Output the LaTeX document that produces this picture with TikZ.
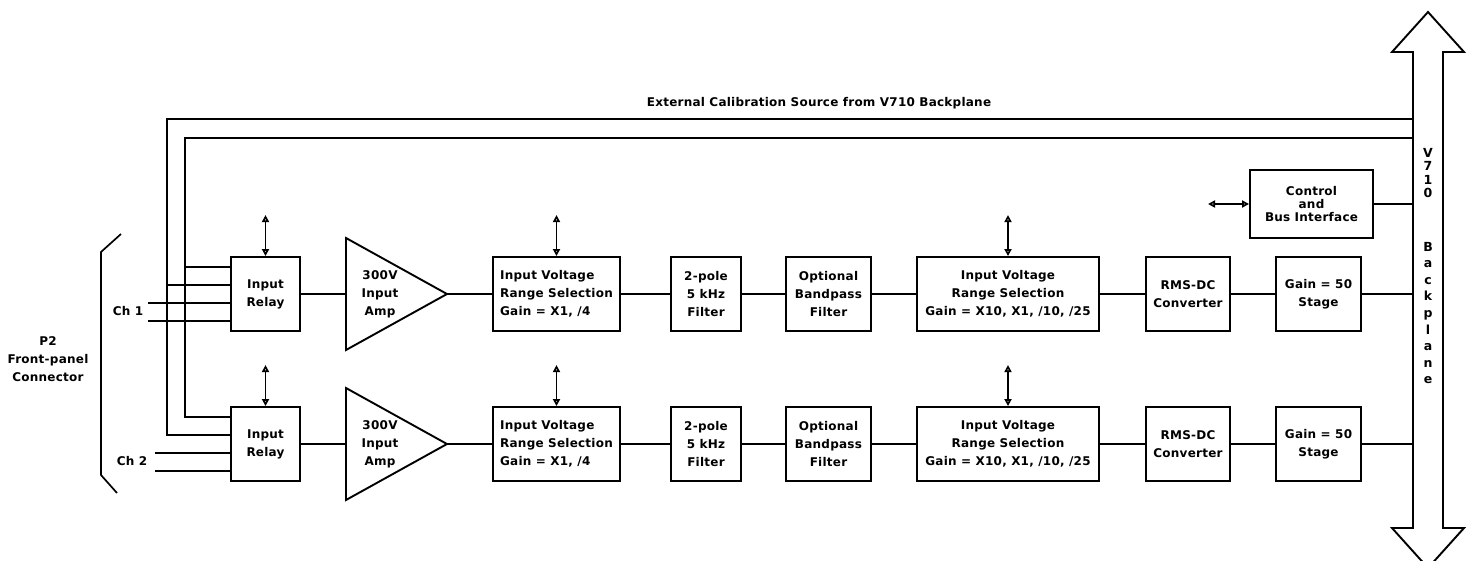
\documentclass[tikz,border=0pt]{standalone}
\usepackage{fontspec}
\newfontfamily\lbl{DejaVu Sans}[LetterSpace=2, UprightFont=* Bold]
\usetikzlibrary{arrows.meta,calc}
\tikzset{
  lbltext/.style={font=\lbl\fontsize{12}{18}\selectfont},
  blk/.style={draw, line width=1.9pt, minimum height=74pt, inner sep=0pt,
              align=center, lbltext},
  wire/.style={line width=1.7pt},
  bidir/.style={wire, {Triangle[open,length=7pt,width=7pt]}-{Triangle[open,length=7pt,width=7pt]}},
  outline/.style={line width=1.9pt, line join=miter},
}
\begin{document}
\begin{tikzpicture}[x=1pt,y=-1pt]
\useasboundingbox (0,0) rectangle (1478,560);
\clip (0,0) rectangle (1478,560);

% backplane bus: double-headed arrow on the right
\draw[outline] (1428,12) -- (1464,52) -- (1443,52) -- (1443,528) -- (1464,528)
  -- (1428,568) -- (1392,528) -- (1413,528) -- (1413,52) -- (1392,52) -- cycle;
\coordinate (bus) at (1413,0);
\node[font=\lbl\fontsize{12.5}{13.3}\selectfont, align=center, inner sep=0pt] (bpV) at (1428,173) {V\\7\\1\\0};
\node[font=\lbl\fontsize{12.5}{16.6}\selectfont, align=center, inner sep=0pt] (bpB) at (1428,313) {B\\a\\c\\k\\p\\l\\a\\n\\e};

% calibration source label
\node[lbltext] (cal) at (819,103) {External Calibration Source from V710 Backplane};

% two identical measurement channels
\foreach \r/\y in {1/294,2/444} {
  \node[blk, minimum width=69pt] (relay\r) at (265.5,\y) {Input\\Relay};
  \coordinate (ampin\r) at (346,\y);
  \coordinate (ampout\r) at (447,\y);
  \draw[outline] (346,\y-56) -- (ampout\r) -- (346,\y+56) -- cycle;
  \node[lbltext, align=center] (amp\r) at (380,\y) {300V\\Input\\Amp};
  \node[blk, minimum width=127pt, align=left] (ivA\r) at (556.5,\y) {Input Voltage\\Range Selection\\Gain = X1, /4};
  \node[blk, minimum width=70pt] (pole\r) at (706,\y) {2-pole\\5 kHz\\Filter};
  \node[blk, minimum width=85pt] (bp\r) at (828.5,\y) {Optional\\Bandpass\\Filter};
  \node[blk, minimum width=182pt] (ivB\r) at (1008,\y) {Input Voltage\\Range Selection\\Gain = X10, X1, /10, /25};
  \node[blk, minimum width=84pt] (rms\r) at (1188,\y) {RMS-DC\\Converter};
  \node[blk, minimum width=85pt] (gain\r) at (1318.5,\y) {Gain = 50\\Stage};

  \draw[wire] (relay\r.east) -- (ampin\r);
  \draw[wire] (ampout\r) -- (ivA\r.west);
  \draw[wire] (ivA\r.east) -- (pole\r.west);
  \draw[wire] (pole\r.east) -- (bp\r.west);
  \draw[wire] (bp\r.east) -- (ivB\r.west);
  \draw[wire] (ivB\r.east) -- (rms\r.west);
  \draw[wire] (rms\r.east) -- (gain\r.west);
  \draw[wire] (gain\r.east) -- (gain\r.east -| bus);

  % control lines from the bus interface
  \foreach \n in {relay,ivA,ivB} {
    \coordinate (t\n\r) at ([yshift=41pt]\n\r.north);
    \draw[bidir] (t\n\r) -- (\n\r.north);
  }

  % relay inputs, top to bottom
  \coordinate (in\r a) at ([yshift=27pt]relay\r.west);
  \coordinate (in\r b) at ([yshift=9pt]relay\r.west);
  \coordinate (in\r c) at ([yshift=-9pt]relay\r.west);
  \coordinate (in\r d) at ([yshift=-27pt]relay\r.west);
}

% calibration source routed to both relays
\coordinate (calA) at (1413,119);
\coordinate (calB) at (1413,138);
\coordinate (xo) at (167,0);
\coordinate (xi) at (185,0);
\draw[wire] (calA) -| (xo |- in2b) -- (in2b);
\draw[wire] (in1b -| xo) -- (in1b);
\draw[wire] (calB) -| (xi |- in2a) -- (in2a);
\draw[wire] (in1a -| xi) -- (in1a);

% channel inputs from the front-panel connector
\coordinate (ch1s) at (148,0);
\coordinate (ch2s) at (155,0);
\draw[wire] (in1c -| ch1s) -- (in1c);
\draw[wire] (in1d -| ch1s) -- (in1d);
\draw[wire] (in2c -| ch2s) -- (in2c);
\draw[wire] (in2d -| ch2s) -- (in2d);
\node[lbltext] (ch1) at (128,311) {Ch 1};
\node[lbltext] (ch2) at (132,461) {Ch 2};

% connector bracket and label
\draw[wire] (121,234) -- (101,252) -- (101,475) -- (117,493);
\node[lbltext, align=center] (p2) at (48,359) {P2\\Front-panel\\Connector};

% control and bus interface
\node[blk, minimum width=123pt, minimum height=68pt,
      font=\lbl\fontsize{12}{13}\selectfont] (ctrl) at (1311.5,204) {Control\\and\\Bus Interface};
\coordinate (ctrlL) at (1208,204);
\draw[bidir] (ctrlL) -- (ctrl.west);
\draw[wire] (ctrl.east) -- (ctrl.east -| bus);
\end{tikzpicture}
\end{document}
